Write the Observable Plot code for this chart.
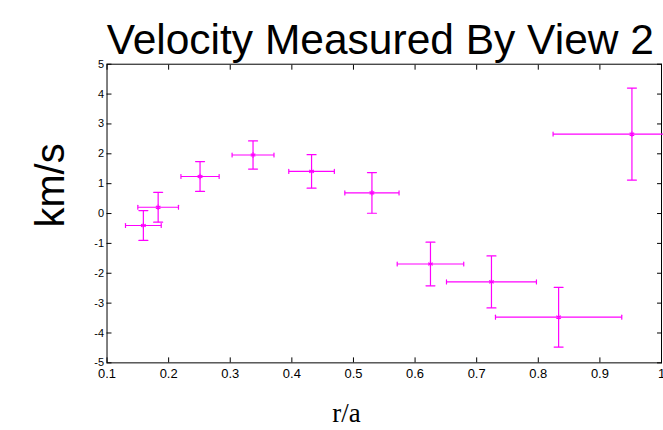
<!DOCTYPE html>
<html><head><meta charset="utf-8">
<script src="https://cdn.jsdelivr.net/npm/d3@7"></script>
<script src="https://cdn.jsdelivr.net/npm/@observablehq/plot@0.6"></script>
<style>html,body{margin:0;padding:0;overflow:hidden;background:#fff}</style>
</head><body><div id="chart"></div>
<script>
const title = "Velocity Measured By View 2";
const xLabel = "r/a";
const yLabel = "km/s";
const rA       = [0.159, 0.183, 0.251, 0.337, 0.432, 0.530, 0.625, 0.724, 0.833, 0.952];
const velocity = [-0.40, 0.21, 1.24, 1.96, 1.41, 0.69, -1.69, -2.29, -3.47, 2.66];
const rErr     = [0.029, 0.033, 0.031, 0.034, 0.037, 0.044, 0.054, 0.073, 0.1025, 0.128];
const vErr     = [0.50, 0.50, 0.50, 0.47, 0.56, 0.68, 0.73, 0.87, 1.00, 1.54];
const xTicks = [0.1, 0.2, 0.3, 0.4, 0.5, 0.6, 0.7, 0.8, 0.9, 1.0];
const xTickLabels = ["0.1", "0.2", "0.3", "0.4", "0.5", "0.6", "0.7", "0.8", "0.9", "1"];
const yTicks = [-5, -4, -3, -2, -1, 0, 1, 2, 3, 4, 5];
const yTickLabels = ["-5", "-4", "-3", "-2", "-1", "0", "1", "2", "3", "4", "5"];

const data = rA.map((r, i) => ({r, v: velocity[i], dr: rErr[i], dv: vErr[i]}));
const line = {draw(ctx, l) { ctx.moveTo(0, 0); ctx.lineTo(0, -l); }};
const pink = "#ff00ff";
const sans = "'Liberation Sans', Arial, sans-serif";

const chart = Plot.plot({
  width: 666, height: 430,
  marginLeft: 107, marginRight: 2, marginTop: 64, marginBottom: 66,
  style: {fontFamily: sans, background: "#fff", color: "#000"},
  x: {domain: [0.1, 1.0]},
  y: {domain: [-5, 5]},
  marks: [
    Plot.frame({stroke: "#000"}),
    Plot.axisX(xTicks, {anchor: "bottom", tickSize: -5, tickPadding: 11, fontSize: 13, label: null,
      tickFormat: d => xTickLabels[xTicks.indexOf(d)]}),
    Plot.axisX(xTicks, {anchor: "top", tickSize: -5, label: null, tickFormat: () => ""}),
    Plot.axisY(yTicks, {anchor: "left", tickSize: -5, tickPadding: 8, fontSize: 11, label: null,
      tickFormat: d => yTickLabels[yTicks.indexOf(d)]}),
    Plot.axisY(yTicks, {anchor: "right", tickSize: -5, label: null, tickFormat: () => ""}),
    Plot.link(data, {x1: "r", x2: "r", y1: d => d.v - d.dv, y2: d => d.v + d.dv, stroke: pink, strokeWidth: 1.2}),
    Plot.link(data, {x1: d => d.r - d.dr, x2: d => d.r + d.dr, y1: "v", y2: "v", stroke: pink, strokeWidth: 1.2}),
    Plot.vector(data, {x: "r", y: d => d.v + d.dv, length: 9, rotate: 90, anchor: "middle", shape: line, stroke: pink, strokeWidth: 1.2}),
    Plot.vector(data, {x: "r", y: d => d.v - d.dv, length: 9, rotate: 90, anchor: "middle", shape: line, stroke: pink, strokeWidth: 1.2}),
    Plot.vector(data, {x: d => d.r - d.dr, y: "v", length: 4, anchor: "middle", shape: line, stroke: pink, strokeWidth: 1.2}),
    Plot.vector(data, {x: d => d.r + d.dr, y: "v", length: 4, anchor: "middle", shape: line, stroke: pink, strokeWidth: 1.2}),
    Plot.dot(data, {x: "r", y: "v", symbol: "asterisk", r: 2.5, stroke: pink, strokeWidth: 1.2}),
    Plot.text([title], {frameAnchor: "top", dx: -4, dy: -10, lineAnchor: "bottom", fontSize: 42.7, fill: "#000"}),
    Plot.text([yLabel], {frameAnchor: "left", rotate: -90, dx: -56, dy: 14, fontSize: 40, fill: "#000"}),
    Plot.text([xLabel], {frameAnchor: "bottom", dx: -38, dy: 59, lineAnchor: "bottom", fontSize: 27, fill: "#000",
      fontFamily: "'Liberation Serif', 'Times New Roman', serif"})
  ]
});
document.getElementById("chart").appendChild(chart);
</script>
</body></html>
